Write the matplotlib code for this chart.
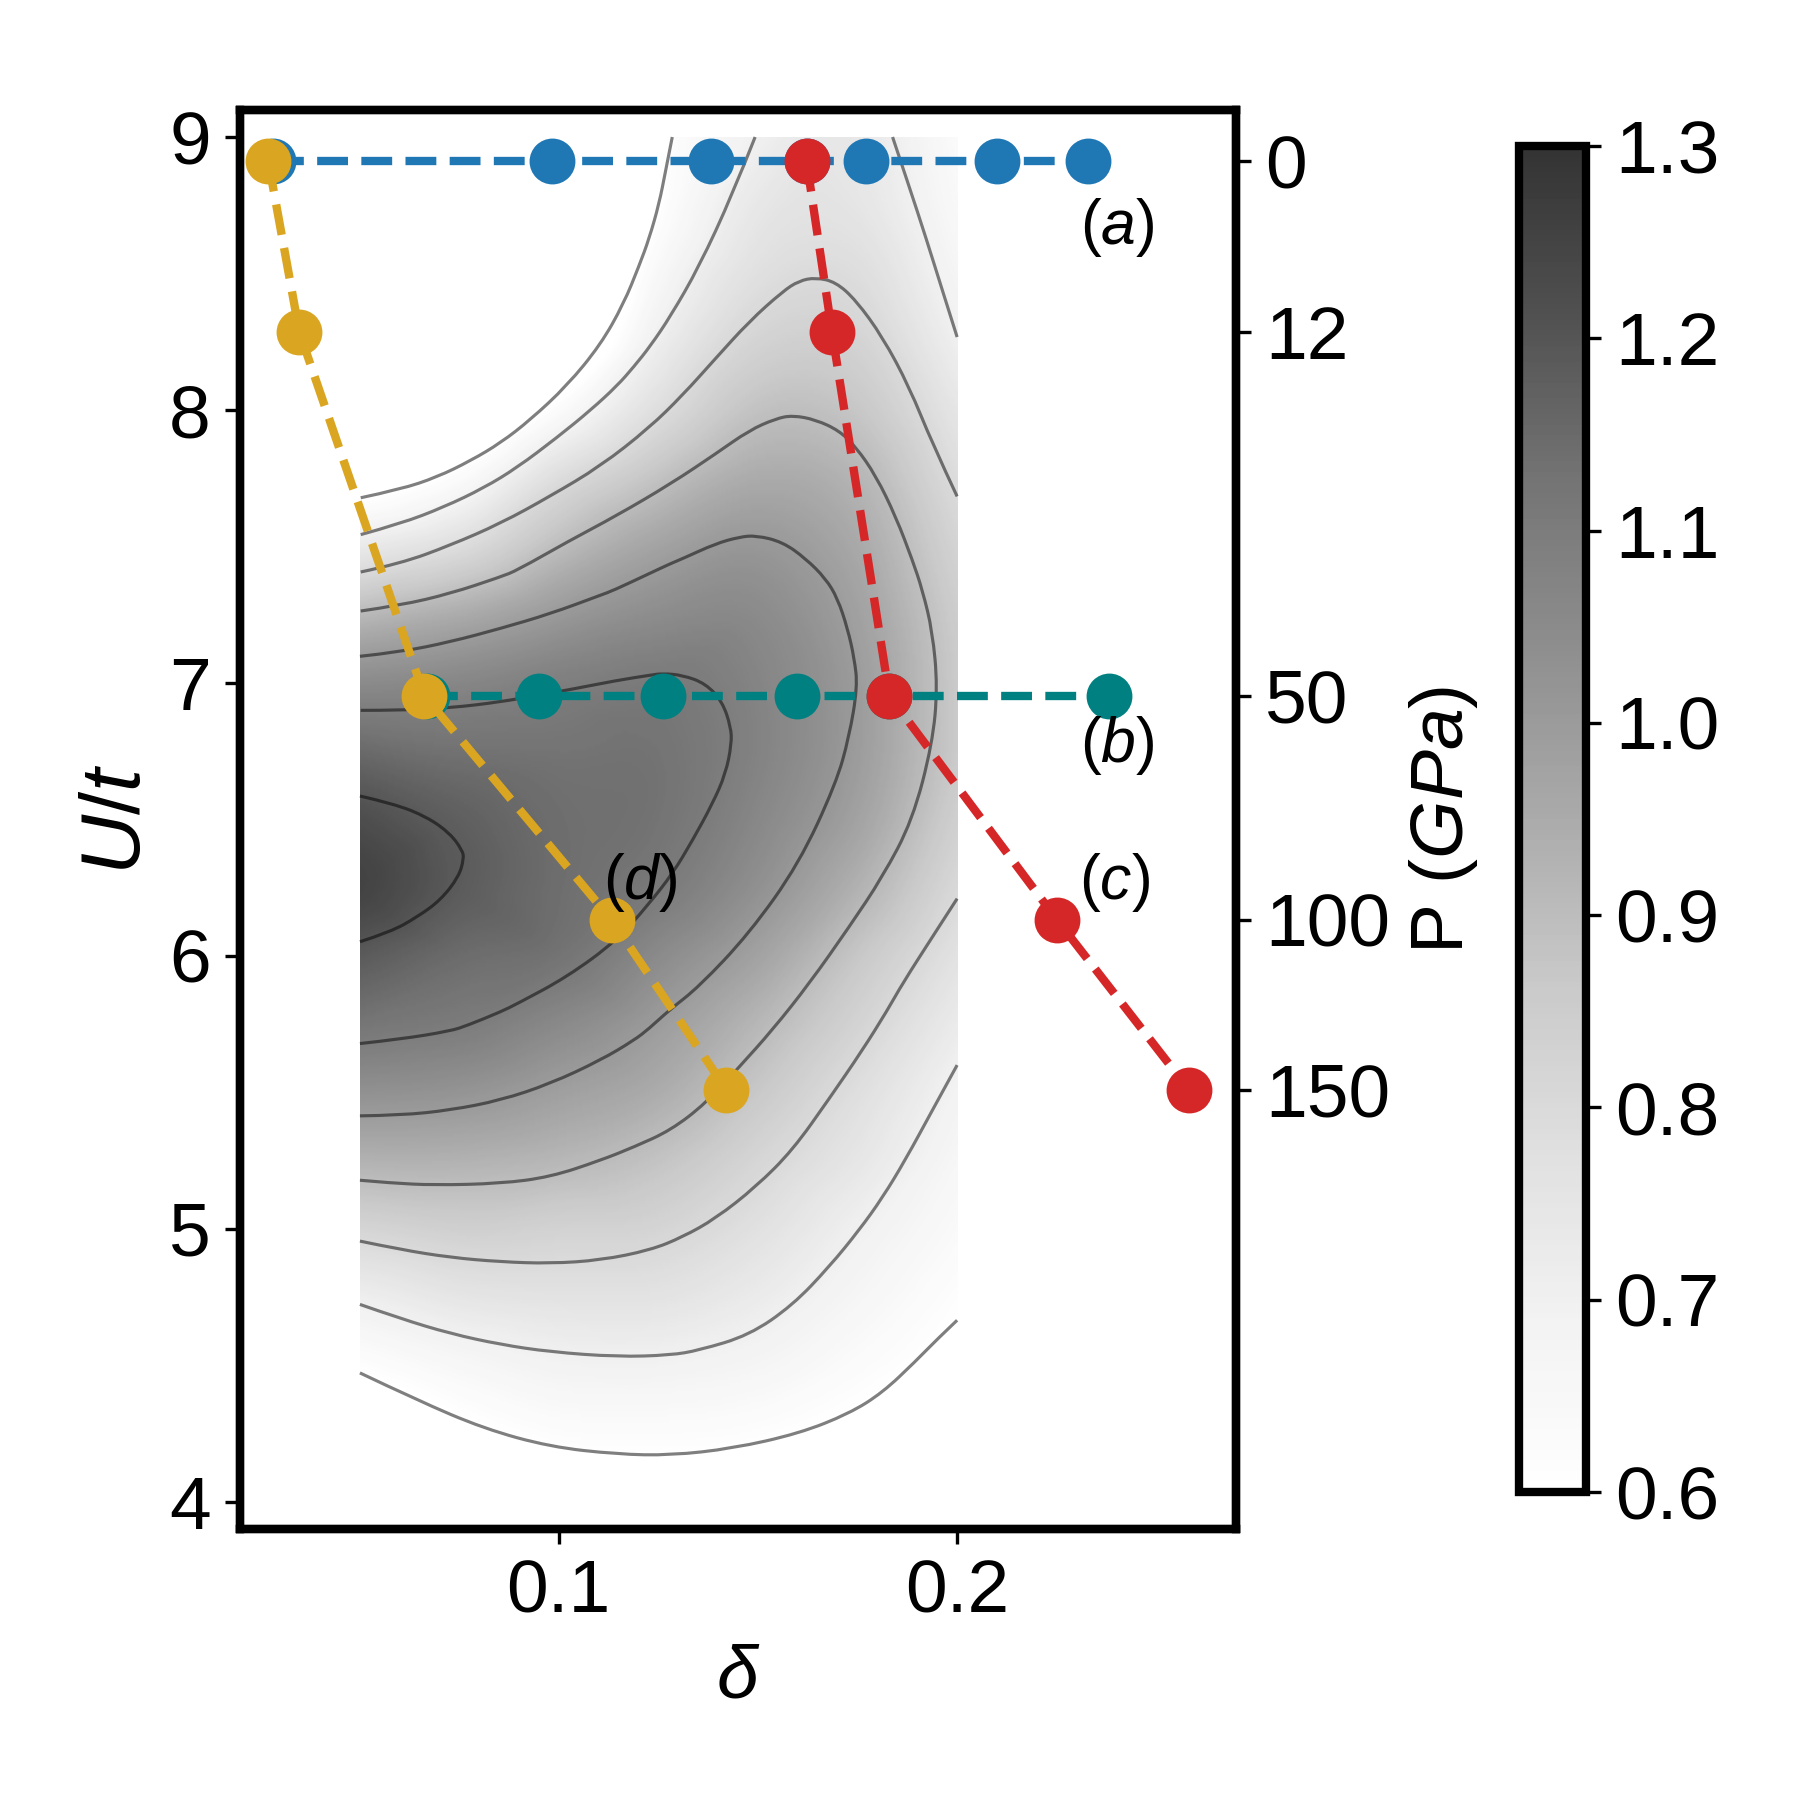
import numpy as np
import matplotlib
matplotlib.use('Agg')
import matplotlib.pyplot as plt
import matplotlib.tri as mtri
from matplotlib.patches import PathPatch
from matplotlib.path import Path

plt.rcParams['font.family'] = ['Liberation Sans', 'DejaVu Sans']
plt.rcParams['mathtext.fontset'] = 'custom'
plt.rcParams['mathtext.rm'] = 'Liberation Sans'
plt.rcParams['mathtext.it'] = 'Liberation Sans:italic'
plt.rcParams['font.size'] = 18

# Shading: one row per U/t value, one column per delta
grid_delta = [0.05, 0.075, 0.1, 0.125, 0.15, 0.175, 0.2]
grid_u = [9.0, 8.75, 8.5, 8.25, 8.0, 7.75, 7.5, 7.25, 7.0, 6.75, 6.5,
          6.25, 6.0, 5.75, 5.5, 5.25, 5.0, 4.75, 4.5, 4.25, 4.0]
grid_z = [
    [0.30, 0.30, 0.32, 0.585, 0.70, 0.735, 0.63],
    [0.32, 0.32, 0.35, 0.60, 0.74, 0.75, 0.645],
    [0.35, 0.35, 0.39, 0.65, 0.775, 0.785, 0.67],
    [0.38, 0.40, 0.46, 0.71, 0.825, 0.825, 0.705],
    [0.45, 0.48, 0.63, 0.785, 0.885, 0.87, 0.75],
    [0.55, 0.63, 0.79, 0.885, 0.95, 0.92, 0.79],
    [0.73, 0.79, 0.90, 0.975, 1.01, 0.955, 0.825],
    [0.91, 0.95, 1.005, 1.045, 1.05, 0.98, 0.85],
    [1.05, 1.065, 1.09, 1.105, 1.07, 0.995, 0.86],
    [1.15, 1.13, 1.125, 1.125, 1.075, 0.995, 0.86],
    [1.22, 1.175, 1.14, 1.125, 1.06, 0.975, 0.84],
    [1.25, 1.185, 1.14, 1.105, 1.03, 0.93, 0.805],
    [1.187, 1.145, 1.125, 1.05, 0.975, 0.87, 0.765],
    [1.12, 1.10, 1.055, 0.995, 0.915, 0.825, 0.725],
    [1.03, 1.02, 0.985, 0.945, 0.865, 0.78, 0.685],
    [0.93, 0.93, 0.915, 0.88, 0.815, 0.745, 0.66],
    [0.82, 0.84, 0.83, 0.82, 0.77, 0.70, 0.636],
    [0.71, 0.75, 0.762, 0.76, 0.723, 0.665, 0.609],
    [0.61, 0.655, 0.687, 0.69, 0.67, 0.625, 0.585],
    [0.52, 0.58, 0.616, 0.62, 0.61, 0.585, 0.55],
    [0.45, 0.50, 0.55, 0.56, 0.56, 0.55, 0.53],
]

# Contour lines as (delta, U/t)
c0_top_x = [.0503, .0603, .0695, .0779, .0854, .0929, .1021, .1105, .1163, .1202, .1227, .1252, .1268, .1285]
c0_top_u = [7.679, 7.710, 7.755, 7.815, 7.880, 7.965, 8.090, 8.240, 8.390, 8.530, 8.629, 8.757, 8.875, 9.001]
c0_low_x = [.0501, .0645, .0812, .0979, .1147, .1281, .1436, .1603, .1729, .1813, .1896, .1946, .2]
c0_low_u = [4.472, 4.372, 4.268, 4.201, 4.174, 4.170, 4.195, 4.250, 4.323, 4.400, 4.515, 4.590, 4.665]

c1_top_x = [.0503, .0603, .0712, .0812, .0896, .0996, .1080, .1147, .1189, .1230, .1281, .1352, .1436, .1493]
c1_top_u = [7.544, 7.584, 7.645, 7.715, 7.790, 7.900, 8.000, 8.090, 8.160, 8.235, 8.345, 8.525, 8.790, 9.001]
c1_right_x = [.1838, .1880, .1921, .1963, .2]
c1_right_u = [9.001, 8.818, 8.635, 8.439, 8.268]
c1_low_x = [.0501, .0603, .0728, .0854, .0979, .1147, .1281, .1352, .1478, .1587, .1679, .1754, .1813, .1871, .1938, .2]
c1_low_u = [4.723, 4.671, 4.616, 4.576, 4.549, 4.531, 4.537, 4.555, 4.610, 4.720, 4.861, 4.995, 5.115, 5.255, 5.435, 5.600]

c2_top_x = [.0503, .0603, .0728, .0854, .0979, .1105, .1227, .1311, .1394, .1478, .1562, .1603, .1645, .1695, .1746, .1813, .1880, .1938, .2]
c2_top_u = [7.407, 7.438, 7.505, 7.585, 7.685, 7.795, 7.935, 8.055, 8.190, 8.325, 8.435, 8.474, 8.486, 8.470, 8.403, 8.268, 8.085, 7.877, 7.684]
c2_low_x = [.0501, .0603, .0728, .0854, .0979, .1105, .1230, .1311, .1394, .1495, .1587, .1679, .1762, .1825, .1863, .1938, .2]
c2_low_u = [4.955, 4.924, 4.895, 4.879, 4.873, 4.885, 4.922, 4.970, 5.038, 5.154, 5.288, 5.477, 5.654, 5.801, 5.899, 6.070, 6.210]

c3_x = [.0503, .0603, .0728, .0854, .0896, .1021, .1147, .1281, .1394, .1478, .1545, .1587, .1645, .1704, .1746, .1796, .1846, .1888, .1913,
        .1938, .1951, .1938, .1888, .1813, .1729, .1629, .1536, .1453, .1369, .1281, .1189, .1105, .0979, .0854, .0687, .0578, .0501]
c3_u = [7.264, 7.285, 7.328, 7.389, 7.4135, 7.517, 7.615, 7.730, 7.840, 7.926, 7.969, 7.981, 7.965, 7.925, 7.865, 7.760, 7.610, 7.450, 7.340,
        7.190, 6.986, 6.778, 6.497, 6.290, 6.106, 5.899, 5.728, 5.593, 5.460, 5.361, 5.300, 5.251, 5.190, 5.166, 5.160, 5.168, 5.178]

c4_x = [.0501, .0603, .0728, .0854, .0979, .1105, .1138, .1227, .1281, .1311, .1394, .1453, .1495, .1562, .1620, .1670, .1700,
        .1725, .1742, .1750, .1729, .1696, .1603, .1478, .1352, .1277, .1227, .1189, .1105, .0979, .0854, .0728, .0603, .0501]
c4_u = [7.098, 7.114, 7.151, 7.200, 7.254, 7.322, 7.340, 7.401, 7.438, 7.456, 7.511, 7.535, 7.541, 7.517, 7.456, 7.383, 7.310,
        7.200, 7.090, 6.986, 6.803, 6.632, 6.338, 6.082, 5.887, 5.801, 5.734, 5.691, 5.618, 5.532, 5.471, 5.435, 5.416, 5.414]

c5_x = [.0503, .0603, .0728, .0854, .0946, .1021, .1147, .1230, .1260, .1311, .1369, .1411, .1432, .1434, .1419, .1386, .1336, .1286, .1227,
        .1147, .1021, .0896, .0854, .0770, .0728, .0603, .0501]
c5_u = [6.900, 6.900, 6.909, 6.931, 6.955, 6.974, 7.010, 7.029, 7.035, 7.029, 6.998, 6.931, 6.839, 6.778, 6.668, 6.558, 6.424, 6.302, 6.192,
        6.058, 5.923, 5.825, 5.795, 5.745, 5.725, 5.695, 5.679]

c6_x = [.0501, .0586, .0670, .0728, .0758, .0762, .0749, .0703, .0645, .0578, .0501]
c6_u = [6.586, 6.558, 6.509, 6.448, 6.387, 6.357, 6.290, 6.204, 6.143, 6.088, 6.052]

contour_lines = [(c0_top_x, c0_top_u), (c0_low_x, c0_low_u),
                 (c1_top_x, c1_top_u), (c1_right_x, c1_right_u), (c1_low_x, c1_low_u),
                 (c2_top_x, c2_top_u), (c2_low_x, c2_low_u),
                 (c3_x, c3_u), (c4_x, c4_u), (c5_x, c5_u), (c6_x, c6_u)]

# The four pressure paths
u_a = [8.913] * 7
delta_a = [0.0282, 0.0983, 0.1383, 0.1622, 0.1772, 0.2101, 0.2329]
u_b = [6.953] * 6
delta_b = [0.0669, 0.0951, 0.1262, 0.1599, 0.183, 0.238]
u_c = [8.913, 8.286, 6.953, 6.132, 5.51]
delta_c = [0.1622, 0.1686, 0.183, 0.2251, 0.2582]
u_d = [8.913, 8.286, 6.953, 6.132, 5.51]
delta_d = [0.0271, 0.0349, 0.0663, 0.1133, 0.1421]

pressure_u = [8.913, 8.286, 6.953, 6.132, 5.51]
pressure_labels = ['0', '12', '50', '100', '150']
cbar_ticks = [0.6, 0.7, 0.8, 0.9, 1.0, 1.1, 1.2, 1.3]


# Quadratic Bezier path through the midpoints, so traced lines have no corners
def smooth_path(x, y):
    pts = np.column_stack([x, y])
    verts = [pts[0]]
    codes = [Path.MOVETO]
    for i in range(1, len(pts) - 1):
        end = pts[i + 1] if i == len(pts) - 2 else (pts[i] + pts[i + 1]) / 2
        verts += [pts[i], end]
        codes += [Path.CURVE3, Path.CURVE3]
    return Path(verts, codes)


def style_spines(axis):
    for spine in axis.spines.values():
        spine.set_linewidth(2)


fig = plt.figure(figsize=(6, 6), dpi=300)
ax = fig.add_axes([240 / 1800, 271 / 1800, 996 / 1800, 1419 / 1800])

# Smooth the read grid with the library's cubic interpolator
xx, uu = np.meshgrid(grid_delta, grid_u)
tri = mtri.Triangulation(xx.ravel(), uu.ravel())
interp = mtri.CubicTriInterpolator(tri, np.array(grid_z).ravel(), kind='geom')
fine_x, fine_u = np.meshgrid(np.linspace(0.05, 0.2, 301), np.linspace(4.0, 9.0, 501))
fine_z = interp(fine_x, fine_u)

im = ax.imshow(fine_z, origin='lower', extent=(0.05, 0.2, 4.0, 9.0), aspect='auto',
               cmap='Greys', vmin=0.6, vmax=1.3, alpha=0.8, interpolation='bilinear')

for line_x, line_u in contour_lines:
    ax.add_patch(PathPatch(smooth_path(line_x, line_u), fc='none', ec='k', lw=0.75,
                           alpha=0.5, capstyle='butt'))

line_style = dict(ls='--', lw=2, marker='o', ms=10)
ax.plot(delta_a, u_a, color='tab:blue', **line_style)
ax.plot(delta_b, u_b, color='teal', **line_style)
ax.plot(delta_c, u_c, color='tab:red', **line_style)
ax.plot(delta_d, u_d, color='goldenrod', **line_style)

ax.text(0.2401, 8.67, '($a$)', ha='center', va='center', fontsize=15)
ax.text(0.2401, 6.77, '($b$)', ha='center', va='center', fontsize=15)
ax.text(0.2395, 6.27, '($c$)', ha='center', va='center', fontsize=15)
ax.text(0.1205, 6.27, '($d$)', ha='center', va='center', fontsize=15)

ax.set_xlim(0.02, 0.27)
ax.set_ylim(3.9, 9.1)
ax.set_xticks([0.1, 0.2])
ax.set_yticks([4, 5, 6, 7, 8, 9])
ax.set_xlabel(r'$\delta$', fontsize=18, labelpad=4)
ax.set_ylabel('$U/t$', fontsize=20, labelpad=3)
style_spines(ax)

# Right axis shows the pressure that belongs to each U/t
ax2 = ax.twinx()
ax2.set_ylim(ax.get_ylim())
ax2.set_yticks(pressure_u)
ax2.set_yticklabels(pressure_labels)
ax2.set_ylabel('P ($GPa$)', fontsize=18, labelpad=4)
style_spines(ax2)

cax = fig.add_axes([1519 / 1800, 308 / 1800, 67 / 1800, 1346 / 1800])
cbar = fig.colorbar(im, cax=cax, ticks=cbar_ticks)
cbar.outline.set_linewidth(2)

fig.savefig('out.png', dpi=300)
